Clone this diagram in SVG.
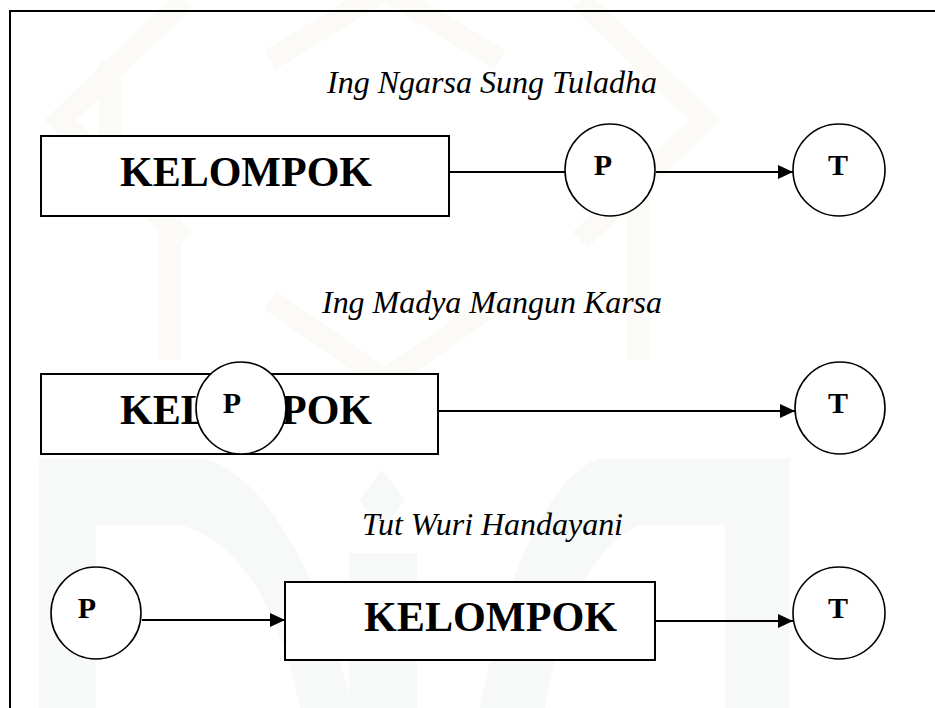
<svg xmlns="http://www.w3.org/2000/svg" width="935" height="708" viewBox="0 0 935 708">
  <style>
    .box { fill: #ffffff; stroke: #000000; stroke-width: 2; }
    .node { fill: #ffffff; stroke: #000000; stroke-width: 1.6; }
    .big { font-family: "Liberation Serif", "Times New Roman", serif; font-weight: bold; font-size: 42px; fill: #000000; }
    .lbl { font-family: "Liberation Serif", "Times New Roman", serif; font-weight: bold; font-size: 30px; fill: #000000; text-anchor: middle; }
    .title { font-family: "Liberation Serif", "Times New Roman", serif; font-style: italic; font-size: 32px; fill: #000000; }
    .edge { fill: none; stroke: #000000; stroke-width: 2; }
    .wm-top { fill: none; stroke: #fbfaf7; stroke-width: 22; stroke-linejoin: miter; }
    .wm-bot { fill: #f7f9f8; }
  </style>
  <defs>
    <marker id="arrow" markerUnits="userSpaceOnUse" markerWidth="16" markerHeight="14" refX="15" refY="7" orient="auto">
      <path d="M0,0 L15,7 L0,14 Z" fill="#000000"/>
    </marker>
  </defs>

  <rect x="0" y="0" width="935" height="708" fill="#ffffff"/>

  <!-- faint background emblem -->
  <g id="emblem">
    <path class="wm-top" d="M185,0 L60,120 L185,240 M580,0 L705,120 L580,240"/>
    <path class="wm-top" d="M170,200 V360 M638,200 V360 M110,60 V180 M270,60 L385,-10 L500,60 M270,300 L385,380 L500,300"/>
    <path class="wm-bot" d="M39,708 V458 H200 C270,470 330,600 352,708 H300 C280,610 240,540 180,525 H96 V708 Z"/>
    <path class="wm-bot" d="M349,708 V553 H417 V708 Z M382,470 L405,500 L382,530 L359,500 Z"/>
    <path class="wm-bot" d="M480,708 C500,600 540,480 600,458 H790 V708 H725 V525 H640 C590,545 560,620 545,708 Z"/>
  </g>

  <!-- page frame -->
  <path d="M10,708 V11 H935" fill="none" stroke="#000000" stroke-width="2"/>

  <!-- titles -->
  <text class="title" x="327" y="93" textLength="330" lengthAdjust="spacingAndGlyphs">Ing Ngarsa Sung Tuladha</text>
  <text class="title" x="322" y="313" textLength="340" lengthAdjust="spacingAndGlyphs">Ing Madya Mangun Karsa</text>
  <text class="title" x="362" y="535" textLength="261" lengthAdjust="spacingAndGlyphs">Tut Wuri Handayani</text>

  <!-- connectors -->
  <g id="connectors">
    <line class="edge" x1="449" y1="172" x2="565" y2="172"/>
    <line class="edge" x1="656" y1="172" x2="793" y2="172" marker-end="url(#arrow)"/>
    <line class="edge" x1="438" y1="411" x2="795" y2="411" marker-end="url(#arrow)"/>
    <line class="edge" x1="142" y1="620" x2="285" y2="620" marker-end="url(#arrow)"/>
    <line class="edge" x1="656" y1="621" x2="793" y2="621" marker-end="url(#arrow)"/>
  </g>

  <!-- row 1 -->
  <g id="kelompok1">
    <rect class="box" x="41" y="136" width="408" height="80"/>
    <text class="big" x="120" y="186" textLength="252" lengthAdjust="spacingAndGlyphs">KELOMPOK</text>
  </g>
  <g id="p1">
    <ellipse class="node" cx="610" cy="170" rx="45" ry="46"/>
    <text class="lbl" x="603" y="175">P</text>
  </g>
  <g id="t1">
    <ellipse class="node" cx="839" cy="170" rx="46" ry="46"/>
    <text class="lbl" x="838" y="175">T</text>
  </g>

  <!-- row 2: the P circle sits on top of the group box -->
  <g id="kelompok2">
    <rect class="box" x="41" y="374" width="397" height="80"/>
    <text class="big" x="120" y="424" textLength="252" lengthAdjust="spacingAndGlyphs">KELOMPOK</text>
  </g>
  <g id="p2">
    <ellipse class="node" cx="241" cy="408" rx="45" ry="46"/>
    <text class="lbl" x="232" y="413">P</text>
  </g>
  <g id="t2">
    <ellipse class="node" cx="840" cy="408" rx="45" ry="46"/>
    <text class="lbl" x="838" y="413">T</text>
  </g>

  <!-- row 3 -->
  <g id="p3">
    <ellipse class="node" cx="96" cy="613" rx="45" ry="46"/>
    <text class="lbl" x="87" y="618">P</text>
  </g>
  <g id="kelompok3">
    <rect class="box" x="285" y="582" width="370" height="78"/>
    <text class="big" x="364" y="631" textLength="253" lengthAdjust="spacingAndGlyphs">KELOMPOK</text>
  </g>
  <g id="t3">
    <ellipse class="node" cx="839" cy="613" rx="46" ry="46"/>
    <text class="lbl" x="838" y="618">T</text>
  </g>
</svg>
